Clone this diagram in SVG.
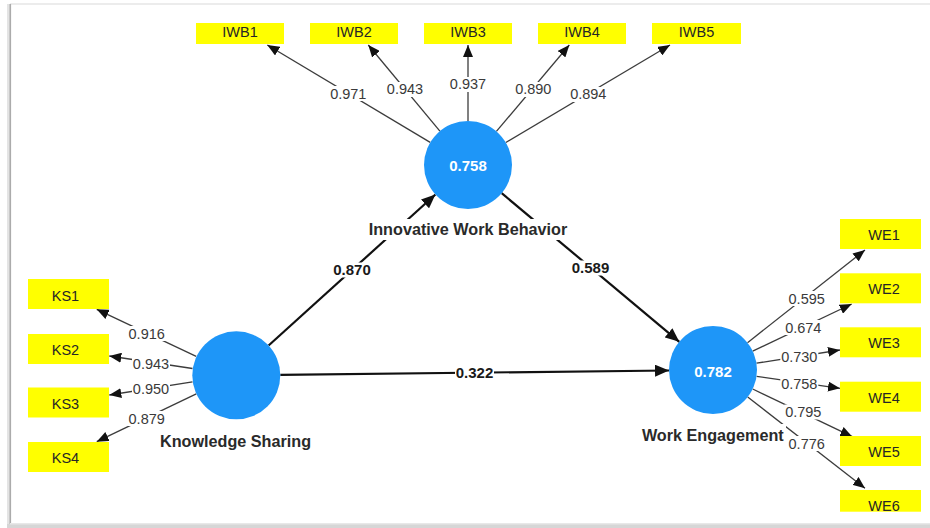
<svg xmlns="http://www.w3.org/2000/svg" width="930" height="528" viewBox="0 0 930 528">
  <defs>
    <style>
      .frame { fill: none; }
      .ind { stroke: #3c3c3c; stroke-width: 1.3; fill: none; marker-end: url(#arrowSmall); }
      .path { stroke: #111; stroke-width: 2.2; fill: none; marker-end: url(#arrowBig); }
      .box { fill: #ffff00; }
      .boxText { font-family: "Liberation Sans", Arial, sans-serif; font-size: 14.5px; fill: #262626; text-anchor: middle; }
      .load { font-family: "Liberation Sans", Arial, sans-serif; font-size: 14.5px; fill: #3a3a3a; text-anchor: middle; }
      .loadBg { fill: #ffffff; }
      .coef { font-family: "Liberation Sans", Arial, sans-serif; font-size: 15px; font-weight: bold; fill: #1a1a1a; text-anchor: middle; }
      .latent { fill: #1e96f8; }
      .r2 { font-family: "Liberation Sans", Arial, sans-serif; font-size: 15px; font-weight: bold; fill: #ffffff; text-anchor: middle; }
      .name { font-family: "Liberation Sans", Arial, sans-serif; font-size: 16.2px; font-weight: bold; fill: #2a2a2a; text-anchor: middle; }
    </style>
    <marker id="arrowSmall" markerUnits="userSpaceOnUse" markerWidth="12" markerHeight="10" refX="12" refY="5" orient="auto">
      <path d="M0,0 L12,5 L0,10 z" fill="#111"/>
    </marker>
    <marker id="arrowBig" markerUnits="userSpaceOnUse" markerWidth="14" markerHeight="12" refX="14" refY="6" orient="auto">
      <path d="M0,0 L14,6 L0,12 z" fill="#111"/>
    </marker>
  </defs>

  <!-- canvas background and window frame -->
  <rect x="0" y="0" width="930" height="528" fill="#ffffff"/>
  <g id="frame">
    <rect x="10" y="3" width="920" height="2" fill="#ececec"/>
    <rect x="7" y="4" width="3" height="522" fill="#e4e4e4"/>
    <rect x="9.5" y="4" width="1.6" height="522" fill="#ababab"/>
    <rect x="7" y="524" width="923" height="4" fill="#d6d6d6"/>
    <rect x="10" y="523" width="920" height="1.5" fill="#e8e8e8"/>
  </g>

  <!-- connectors: outer loadings and inner path coefficients -->
  <g id="connectors">
    <!-- Innovative Work Behavior indicators -->
    <line class="ind" x1="430.2" y1="142.4" x2="267.3" y2="45"/>
    <line class="ind" x1="439.9" y1="131.2" x2="368.3" y2="45"/>
    <line class="ind" x1="468" y1="121" x2="468" y2="45"/>
    <line class="ind" x1="496.4" y1="131.4" x2="569.3" y2="45"/>
    <line class="ind" x1="505.8" y1="142.5" x2="670" y2="45"/>
    <!-- Knowledge Sharing indicators -->
    <line class="ind" x1="196.2" y1="356.3" x2="96.7" y2="309.3"/>
    <line class="ind" x1="192.5" y1="368.5" x2="109.3" y2="356"/>
    <line class="ind" x1="192.5" y1="381.8" x2="109.3" y2="395"/>
    <line class="ind" x1="196.3" y1="393.9" x2="96.7" y2="441.7"/>
    <!-- Work Engagement indicators -->
    <line class="ind" x1="747.5" y1="342.7" x2="865" y2="250"/>
    <line class="ind" x1="752.7" y1="351.1" x2="851.7" y2="304"/>
    <line class="ind" x1="756.5" y1="363.2" x2="840" y2="350"/>
    <line class="ind" x1="756.6" y1="376.3" x2="840" y2="388.3"/>
    <line class="ind" x1="752.7" y1="389" x2="852.3" y2="436.7"/>
    <line class="ind" x1="747.7" y1="397" x2="865" y2="488.3"/>
    <!-- structural paths -->
    <line class="path" x1="268.6" y1="345.5" x2="435.4" y2="194.5"/>
    <line class="path" x1="501.7" y1="193.2" x2="679.3" y2="341.8"/>
    <line class="path" x1="280.3" y1="374.8" x2="669" y2="370.5"/>

    <!-- loading labels -->
    <rect class="loadBg" x="329.5" y="86" width="38" height="15"/>
    <text class="load" x="348.3" y="98.5">0.971</text>
    <rect class="loadBg" x="386" y="82" width="38" height="15"/>
    <text class="load" x="405" y="94.2">0.943</text>
    <rect class="loadBg" x="449" y="77" width="38" height="15"/>
    <text class="load" x="468" y="89.2">0.937</text>
    <rect class="loadBg" x="514.3" y="82" width="38" height="15"/>
    <text class="load" x="533.3" y="94.2">0.890</text>
    <rect class="loadBg" x="569.3" y="87" width="38" height="15"/>
    <text class="load" x="588.3" y="99.2">0.894</text>

    <rect class="loadBg" x="127.7" y="326" width="38" height="15"/>
    <text class="load" x="146.7" y="338.5">0.916</text>
    <rect class="loadBg" x="132" y="356" width="38" height="15"/>
    <text class="load" x="151" y="368.5">0.943</text>
    <rect class="loadBg" x="132" y="382" width="38" height="15"/>
    <text class="load" x="151" y="394.2">0.950</text>
    <rect class="loadBg" x="127.7" y="411" width="38" height="15"/>
    <text class="load" x="146.7" y="423.5">0.879</text>

    <rect class="loadBg" x="787.7" y="291" width="38" height="15"/>
    <text class="load" x="806.7" y="303.5">0.595</text>
    <rect class="loadBg" x="784.3" y="320" width="38" height="15"/>
    <text class="load" x="803.3" y="332.5">0.674</text>
    <rect class="loadBg" x="780.3" y="349.5" width="38" height="15"/>
    <text class="load" x="799.3" y="361.9">0.730</text>
    <rect class="loadBg" x="780.3" y="376" width="38" height="15"/>
    <text class="load" x="799.3" y="388.5">0.758</text>
    <rect class="loadBg" x="784.3" y="404.5" width="38" height="15"/>
    <text class="load" x="803.3" y="416.9">0.795</text>
    <rect class="loadBg" x="787.7" y="436" width="38" height="15"/>
    <text class="load" x="806.7" y="448.5">0.776</text>

    <!-- path coefficient labels -->
    <rect class="loadBg" x="332.5" y="262.5" width="39" height="15"/>
    <text class="coef" x="352" y="275.3">0.870</text>
    <rect class="loadBg" x="571" y="260.5" width="39" height="15"/>
    <text class="coef" x="590.5" y="273.3">0.589</text>
    <rect class="loadBg" x="455" y="365" width="39" height="15"/>
    <text class="coef" x="474.5" y="377.6">0.322</text>
  </g>

  <!-- latent variables -->
  <g id="innovative-work-behavior">
    <circle class="latent" cx="468" cy="165" r="44"/>
    <text class="r2" x="468" y="171.2">0.758</text>
    <rect fill="#ffffff" x="365" y="219" width="206" height="21"/>
    <text class="name" x="468" y="235.3">Innovative Work Behavior</text>
  </g>
  <g id="knowledge-sharing">
    <circle class="latent" cx="236.3" cy="375.3" r="44"/>
    <rect fill="#ffffff" x="157" y="430" width="158" height="21"/>
    <text class="name" x="235.5" y="446.6">Knowledge Sharing</text>
  </g>
  <g id="work-engagement">
    <circle class="latent" cx="713" cy="370" r="44"/>
    <text class="r2" x="713" y="376.5">0.782</text>
    <rect fill="#ffffff" x="640" y="424" width="146" height="21"/>
    <text class="name" x="712.8" y="440.8">Work Engagement</text>
  </g>

  <!-- indicators -->
  <g id="IWB1"><rect class="box" x="196" y="23" width="88" height="21"/><text class="boxText" x="240" y="36.5">IWB1</text></g>
  <g id="IWB2"><rect class="box" x="310" y="23" width="88" height="21"/><text class="boxText" x="354" y="36.5">IWB2</text></g>
  <g id="IWB3"><rect class="box" x="424" y="23" width="88" height="21"/><text class="boxText" x="468" y="36.5">IWB3</text></g>
  <g id="IWB4"><rect class="box" x="538" y="23" width="88" height="21"/><text class="boxText" x="582" y="36.5">IWB4</text></g>
  <g id="IWB5"><rect class="box" x="652" y="23" width="89" height="21"/><text class="boxText" x="696.5" y="36.5">IWB5</text></g>

  <g id="KS1"><rect class="box" x="28" y="279" width="81" height="30"/><text class="boxText" x="65.5" y="300.5">KS1</text></g>
  <g id="KS2"><rect class="box" x="28" y="334" width="81" height="30"/><text class="boxText" x="65.5" y="355.2">KS2</text></g>
  <g id="KS3"><rect class="box" x="28" y="387.5" width="81" height="30"/><text class="boxText" x="65.5" y="408.7">KS3</text></g>
  <g id="KS4"><rect class="box" x="28" y="442" width="81" height="30"/><text class="boxText" x="65.5" y="463.2">KS4</text></g>

  <g id="WE1"><rect class="box" x="840" y="219" width="81" height="30"/><text class="boxText" x="884" y="240">WE1</text></g>
  <g id="WE2"><rect class="box" x="840" y="273.3" width="81" height="30"/><text class="boxText" x="884" y="294.3">WE2</text></g>
  <g id="WE3"><rect class="box" x="840" y="327.3" width="81" height="30"/><text class="boxText" x="884" y="348.3">WE3</text></g>
  <g id="WE4"><rect class="box" x="840" y="381.7" width="81" height="30"/><text class="boxText" x="884" y="402.7">WE4</text></g>
  <g id="WE5"><rect class="box" x="840" y="436" width="81" height="30"/><text class="boxText" x="884" y="457">WE5</text></g>
  <g id="WE6"><rect class="box" x="840" y="490" width="81" height="21.7"/><text class="boxText" x="884" y="511">WE6</text></g>
</svg>
